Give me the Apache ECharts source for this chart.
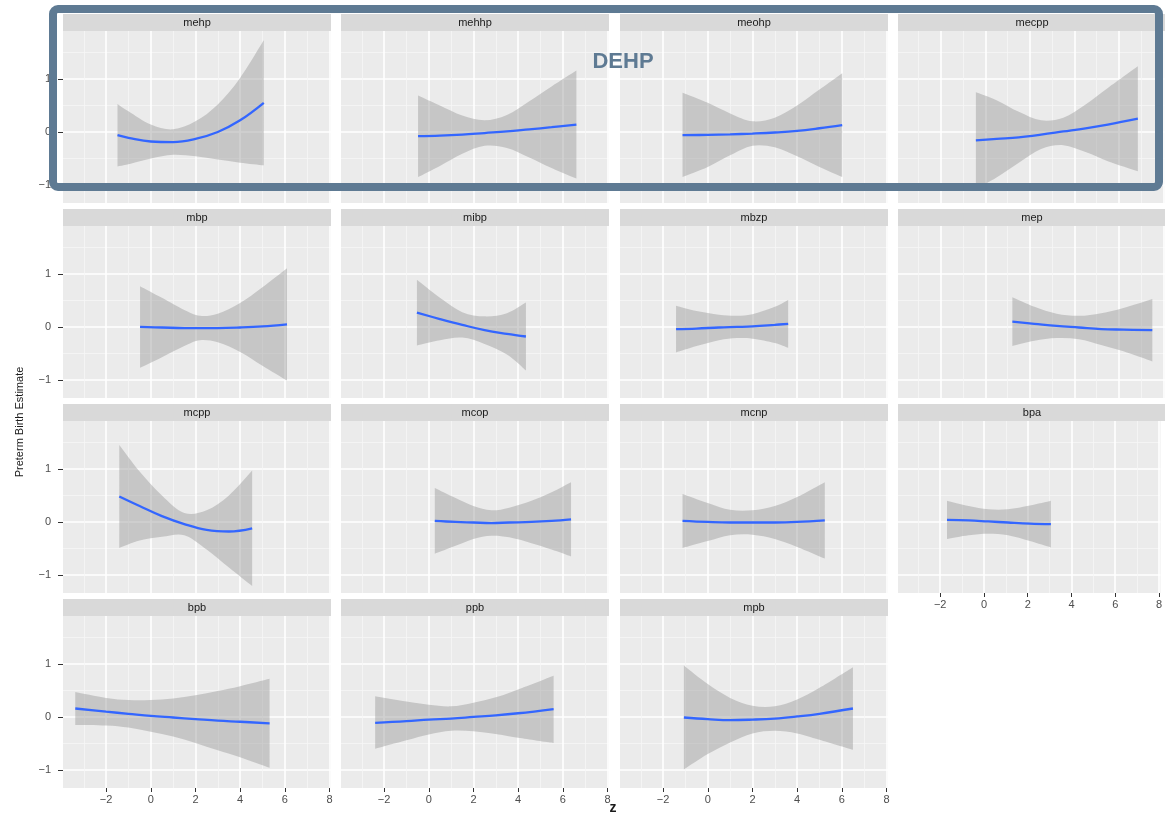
<!DOCTYPE html>
<html>
<head>
<meta charset="utf-8">
<script src="https://cdn.jsdelivr.net/npm/echarts@6/dist/echarts.min.js"></script>
<style>
  html, body { margin: 0; padding: 0; background: #ffffff; }
  #chart { width: 1165px; height: 817px; }
</style>
</head>
<body>
<div id="chart"></div>
<script>
// Facets, left to right, top to bottom
const PANELS = ['mehp', 'mehhp', 'meohp', 'mecpp',
                'mbp', 'mibp', 'mbzp', 'mep',
                'mcpp', 'mcop', 'mcnp', 'bpa',
                'bpb', 'ppb', 'mpb'];

// Tick values
const X_MAJOR = [-2, 0, 2, 4, 6, 8];
const X_MINOR = [-3, -1, 1, 3, 5, 7];
const Y_MAJOR = [-1, 0, 1];
const Y_MINOR = [-0.5, 0.5, 1.5];

// Smoothed fit (z -> estimate) with lower / upper confidence limits
const mehp_z   = [-1.49, -1, 0, 1, 2, 3, 4, 5.06];
const mehp_fit = [-0.06, -0.11, -0.18, -0.19, -0.13, 0.0, 0.22, 0.55];
const mehp_lo  = [-0.65, -0.61, -0.50, -0.43, -0.46, -0.52, -0.58, -0.63];
const mehp_hi  = [0.53, 0.39, 0.14, 0.05, 0.20, 0.52, 1.02, 1.73];

const mehhp_z   = [-0.48, 0.5, 1.5, 2.5, 3.5, 4.5, 5.5, 6.61];
const mehhp_fit = [-0.08, -0.07, -0.05, -0.02, 0.01, 0.05, 0.09, 0.14];
const mehhp_lo  = [-0.85, -0.64, -0.41, -0.26, -0.30, -0.48, -0.68, -0.88];
const mehhp_hi  = [0.69, 0.50, 0.31, 0.22, 0.32, 0.58, 0.86, 1.16];

const meohp_z   = [-1.13, 0, 1, 2, 3, 4, 5, 6.02];
const meohp_fit = [-0.06, -0.055, -0.045, -0.03, -0.01, 0.02, 0.07, 0.13];
const meohp_lo  = [-0.85, -0.66, -0.44, -0.26, -0.29, -0.46, -0.66, -0.85];
const meohp_hi  = [0.74, 0.55, 0.35, 0.20, 0.27, 0.50, 0.80, 1.11];

const mecpp_z   = [-0.43, 0.5, 1.5, 2.5, 3.5, 4.5, 5.5, 6.85];
const mecpp_fit = [-0.16, -0.13, -0.10, -0.05, 0.01, 0.07, 0.14, 0.25];
const mecpp_lo  = [-1.07, -0.86, -0.58, -0.32, -0.25, -0.38, -0.55, -0.74];
const mecpp_hi  = [0.75, 0.60, 0.38, 0.22, 0.27, 0.52, 0.83, 1.24];

const mbp_z   = [-0.48, 0.5, 1.5, 2.2, 3, 4, 5, 6.1];
const mbp_fit = [0.0, -0.01, -0.02, -0.02, -0.02, -0.01, 0.01, 0.05];
const mbp_lo  = [-0.77, -0.57, -0.36, -0.25, -0.29, -0.47, -0.73, -1.01];
const mbp_hi  = [0.77, 0.55, 0.32, 0.21, 0.25, 0.45, 0.75, 1.11];

const mibp_z   = [-0.53, 0.5, 1.5, 2.5, 3.5, 4.35];
const mibp_fit = [0.27, 0.15, 0.04, -0.06, -0.13, -0.18];
const mibp_lo  = [-0.35, -0.25, -0.20, -0.32, -0.52, -0.82];
const mibp_hi  = [0.89, 0.55, 0.28, 0.20, 0.26, 0.46];

const mbzp_z   = [-1.42, -0.5, 0.5, 1.3, 2, 3, 3.6];
const mbzp_fit = [-0.04, -0.03, -0.01, 0.0, 0.01, 0.04, 0.06];
const mbzp_lo  = [-0.48, -0.36, -0.25, -0.21, -0.22, -0.30, -0.39];
const mbzp_hi  = [0.40, 0.30, 0.23, 0.21, 0.24, 0.38, 0.51];

const mep_z   = [1.21, 2.2, 3.2, 4.2, 5.2, 6.2, 7.5];
const mep_fit = [0.10, 0.06, 0.02, -0.01, -0.04, -0.05, -0.06];
const mep_lo  = [-0.36, -0.26, -0.21, -0.23, -0.34, -0.46, -0.65];
const mep_hi  = [0.56, 0.38, 0.25, 0.21, 0.26, 0.36, 0.53];

const mcpp_z   = [-1.41, -0.5, 0.5, 1.5, 2.5, 3.5, 4.54];
const mcpp_fit = [0.48, 0.30, 0.11, -0.04, -0.15, -0.18, -0.12];
const mcpp_lo  = [-0.49, -0.35, -0.28, -0.25, -0.52, -0.86, -1.21];
const mcpp_hi  = [1.45, 0.95, 0.50, 0.17, 0.22, 0.50, 0.97];

const mcop_z   = [0.27, 1.2, 2, 2.8, 3.6, 4.6, 5.5, 6.37];
const mcop_fit = [0.02, 0.0, -0.01, -0.02, -0.01, 0.0, 0.02, 0.05];
const mcop_lo  = [-0.60, -0.45, -0.32, -0.26, -0.29, -0.40, -0.52, -0.65];
const mcop_hi  = [0.64, 0.45, 0.30, 0.22, 0.27, 0.40, 0.56, 0.75];

const mcnp_z   = [-1.13, 0, 1, 2, 3, 4, 5.24];
const mcnp_fit = [0.02, 0.0, -0.01, -0.01, -0.01, 0.0, 0.03];
const mcnp_lo  = [-0.49, -0.36, -0.25, -0.24, -0.32, -0.47, -0.69];
const mcnp_hi  = [0.53, 0.36, 0.23, 0.22, 0.30, 0.47, 0.75];

const bpa_z   = [-1.69, -0.7, 0.2, 1.1, 2.1, 3.06];
const bpa_fit = [0.04, 0.03, 0.01, -0.01, -0.03, -0.04];
const bpa_lo  = [-0.32, -0.25, -0.22, -0.25, -0.36, -0.48];
const bpa_hi  = [0.40, 0.30, 0.24, 0.24, 0.31, 0.40];

const bpb_z   = [-3.38, -2, -1, 0, 1, 2, 3, 4, 5.32];
const bpb_fit = [0.16, 0.10, 0.06, 0.02, -0.01, -0.04, -0.07, -0.09, -0.12];
const bpb_lo  = [-0.15, -0.16, -0.20, -0.28, -0.37, -0.49, -0.63, -0.76, -0.96];
const bpb_hi  = [0.47, 0.36, 0.32, 0.32, 0.35, 0.41, 0.49, 0.58, 0.72];

const ppb_z   = [-2.4, -1, 0, 1, 2, 3, 4, 5.59];
const ppb_fit = [-0.11, -0.08, -0.05, -0.03, 0.0, 0.03, 0.07, 0.15];
const ppb_lo  = [-0.60, -0.44, -0.33, -0.26, -0.27, -0.32, -0.39, -0.49];
const ppb_hi  = [0.39, 0.29, 0.23, 0.20, 0.27, 0.37, 0.52, 0.78];

const mpb_z   = [-1.07, 0, 1, 2, 3, 4, 5, 6.5];
const mpb_fit = [-0.01, -0.04, -0.06, -0.05, -0.03, 0.01, 0.06, 0.16];
const mpb_lo  = [-0.99, -0.70, -0.48, -0.31, -0.26, -0.31, -0.43, -0.62];
const mpb_hi  = [0.97, 0.62, 0.36, 0.21, 0.20, 0.33, 0.55, 0.94];

const SERIES_DATA = {
  mehp:  [mehp_z, mehp_fit, mehp_lo, mehp_hi],
  mehhp: [mehhp_z, mehhp_fit, mehhp_lo, mehhp_hi],
  meohp: [meohp_z, meohp_fit, meohp_lo, meohp_hi],
  mecpp: [mecpp_z, mecpp_fit, mecpp_lo, mecpp_hi],
  mbp:   [mbp_z, mbp_fit, mbp_lo, mbp_hi],
  mibp:  [mibp_z, mibp_fit, mibp_lo, mibp_hi],
  mbzp:  [mbzp_z, mbzp_fit, mbzp_lo, mbzp_hi],
  mep:   [mep_z, mep_fit, mep_lo, mep_hi],
  mcpp:  [mcpp_z, mcpp_fit, mcpp_lo, mcpp_hi],
  mcop:  [mcop_z, mcop_fit, mcop_lo, mcop_hi],
  mcnp:  [mcnp_z, mcnp_fit, mcnp_lo, mcnp_hi],
  bpa:   [bpa_z, bpa_fit, bpa_lo, bpa_hi],
  bpb:   [bpb_z, bpb_fit, bpb_lo, bpb_hi],
  ppb:   [ppb_z, ppb_fit, ppb_lo, ppb_hi],
  mpb:   [mpb_z, mpb_fit, mpb_lo, mpb_hi]
};

// Facet geometry
const COL_LEFT = [63, 341, 620, 898];
const STRIP_TOP = [14, 209, 404, 599];
const PANEL_W = 268, STRIP_H = 17, PANEL_H = 172;
const X_MIN = -3.93, X_MAX = 8.07, Y_MIN = -1.34, Y_MAX = 1.905;
const FONT = '"Liberation Sans", Arial, Helvetica, sans-serif';
const X_LABELLED = ['bpa', 'bpb', 'ppb', 'mpb'];

const fmt = v => (v < 0 ? '\u2212' + Math.abs(v) : String(v));

// Cubic (Catmull-Rom style) segments through pixel points, as SVG path commands
function curveSegments(pts) {
  let s = '';
  for (let i = 0; i < pts.length - 1; i++) {
    const p0 = pts[Math.max(i - 1, 0)], p1 = pts[i], p2 = pts[i + 1], p3 = pts[Math.min(i + 2, pts.length - 1)];
    const k = 1 / 6;
    const c1x = p1[0] + (p2[0] - p0[0]) * k, c1y = p1[1] + (p2[1] - p0[1]) * k;
    const c2x = p2[0] - (p3[0] - p1[0]) * k, c2y = p2[1] - (p3[1] - p1[1]) * k;
    s += ' C' + c1x + ' ' + c1y + ' ' + c2x + ' ' + c2y + ' ' + p2[0] + ' ' + p2[1];
  }
  return s;
}

// Ribbon between lower and upper limits, drawn once per facet
function makeBandRenderer(zs, lo, hi) {
  return function (params, api) {
    if (params.dataIndex !== 0) return null;
    const upper = zs.map((z, k) => api.coord([z, hi[k]]));
    const lower = zs.map((z, k) => api.coord([z, lo[k]])).reverse();
    let d = 'M' + upper[0][0] + ' ' + upper[0][1] + curveSegments(upper);
    d += ' L' + lower[0][0] + ' ' + lower[0][1] + curveSegments(lower) + ' Z';
    return {
      type: 'path',
      shape: { pathData: d },
      style: { fill: 'rgba(153,153,153,0.45)', stroke: null }
    };
  };
}

const grids = [], xAxes = [], yAxes = [], series = [], graphics = [];

PANELS.forEach((name, i) => {
  const col = i % 4, row = Math.floor(i / 4);
  const left = COL_LEFT[col], stripTop = STRIP_TOP[row];
  const showX = X_LABELLED.includes(name);
  const showY = col === 0;

  grids.push({
    left: left, top: stripTop + STRIP_H, width: PANEL_W, height: PANEL_H,
    show: true, backgroundColor: '#EBEBEB', borderWidth: 0
  });

  // major x gridlines + ticks
  xAxes.push({
    type: 'value', gridIndex: i, min: X_MIN, max: X_MAX, position: 'bottom',
    axisLine: { show: false, onZero: false },
    axisTick: { show: showX, customValues: X_MAJOR, length: 4, lineStyle: { color: '#333333', width: 1 } },
    axisLabel: { show: showX, customValues: X_MAJOR, formatter: fmt, color: '#4D4D4D',
                 fontSize: 11, margin: 6, fontFamily: FONT },
    splitLine: { show: true, lineStyle: { color: '#FFFFFF', width: 1.6 } }
  });
  // minor x gridlines
  xAxes.push({
    type: 'value', gridIndex: i, min: X_MIN, max: X_MAX, position: 'bottom',
    axisLine: { show: false, onZero: false },
    axisTick: { show: false, customValues: X_MINOR },
    axisLabel: { show: false, customValues: X_MINOR },
    splitLine: { show: true, lineStyle: { color: '#F6F6F6', width: 0.8 } }
  });
  // major y
  yAxes.push({
    type: 'value', gridIndex: i, min: Y_MIN, max: Y_MAX, position: 'left',
    axisLine: { show: false, onZero: false },
    axisTick: { show: showY, customValues: Y_MAJOR, length: 5, lineStyle: { color: '#333333', width: 1 } },
    axisLabel: { show: showY, customValues: Y_MAJOR, formatter: fmt, color: '#4D4D4D',
                 fontSize: 11, margin: 12, fontFamily: FONT },
    splitLine: { show: true, lineStyle: { color: '#FFFFFF', width: 1.6 } }
  });
  // minor y
  yAxes.push({
    type: 'value', gridIndex: i, min: Y_MIN, max: Y_MAX, position: 'left',
    axisLine: { show: false, onZero: false },
    axisTick: { show: false, customValues: Y_MINOR },
    axisLabel: { show: false, customValues: Y_MINOR },
    splitLine: { show: true, lineStyle: { color: '#F6F6F6', width: 0.8 } }
  });

  const [zs, fit, lo, hi] = SERIES_DATA[name];

  // confidence ribbon
  series.push({
    type: 'custom', xAxisIndex: 2 * i, yAxisIndex: 2 * i, silent: true, z: 2,
    data: zs.map((z, k) => [z, lo[k], hi[k]]),
    encode: { x: 0, y: [1, 2] },
    renderItem: makeBandRenderer(zs, lo, hi)
  });
  // fitted curve
  series.push({
    type: 'line', xAxisIndex: 2 * i, yAxisIndex: 2 * i,
    data: zs.map((z, k) => [z, fit[k]]), smooth: 0.4, showSymbol: false, silent: true,
    lineStyle: { color: '#3366FF', width: 2.3 }, z: 3
  });

  // facet strip
  graphics.push({
    type: 'rect', shape: { x: left, y: stripTop, width: PANEL_W, height: STRIP_H },
    style: { fill: '#D9D9D9' }, silent: true, z: 1
  });
  graphics.push({
    type: 'text', x: left + PANEL_W / 2, y: stripTop + STRIP_H / 2 + 0.5, silent: true, z: 2,
    style: { text: name, fill: '#1A1A1A', font: '11px ' + FONT, align: 'center', verticalAlign: 'middle' }
  });
});

// axis titles
graphics.push({
  type: 'text', x: 20, y: 422, rotation: Math.PI / 2, silent: true, z: 2,
  style: { text: 'Preterm Birth Estimate', fill: '#1A1A1A', font: '11px ' + FONT,
           align: 'center', verticalAlign: 'middle' }
});
graphics.push({
  type: 'text', x: 613, y: 808, silent: true, z: 2,
  style: { text: 'z', fill: '#1A1A1A', font: 'bold 14px ' + FONT, align: 'center', verticalAlign: 'middle' }
});

// DEHP group frame around the first row
graphics.push({
  type: 'rect', shape: { x: 53, y: 9, width: 1106, height: 178, r: 5 },
  style: { fill: 'none', stroke: '#5E7A93', lineWidth: 8 }, silent: true, z: 50
});
graphics.push({
  type: 'text', x: 623, y: 62, silent: true, z: 50,
  style: { text: 'DEHP', fill: '#5E7A93', font: 'bold 22px ' + FONT, align: 'center', verticalAlign: 'middle' }
});

const chart = echarts.init(document.getElementById('chart'), null, { renderer: 'canvas' });
chart.setOption({
  animation: false,
  backgroundColor: '#FFFFFF',
  grid: grids,
  xAxis: xAxes,
  yAxis: yAxes,
  series: series,
  graphic: graphics
});
</script>
</body>
</html>
